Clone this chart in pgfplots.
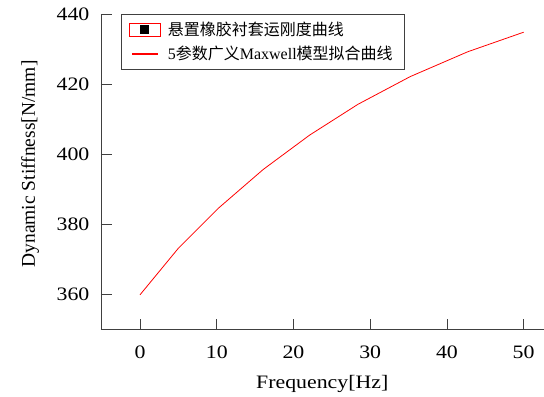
\documentclass[border=0pt]{standalone}
\usepackage{pgfplots}
\pgfplotsset{compat=1.18}
\usepackage{fontspec}
\setmainfont{Liberation Serif}[FakeStretch=1.15]
\newfontfamily\ylfont{Liberation Serif}
\newfontfamily\lgfont{Liberation Serif}
\newfontfamily\cjk{Noto Sans CJK SC}
\begin{document}
\begin{tikzpicture}[font=\fontsize{19}{22}\selectfont]
\begin{axis}[
  scale only axis,
  width=443pt, height=316pt,
  xmin=-5.1, xmax=52.6,
  ymin=350, ymax=440.2,
  axis x line*=bottom, axis y line*=left,
  axis line style={black!75, line width=0.8pt},
  tick style={black!75, line width=0.8pt},
  tick align=inside,
  major tick length=11pt,
  xtick={0,10,20,30,40,50},
  ytick={360,380,400,420,440},
  /pgf/number format/assume math mode=true,
  xticklabel style={yshift=-13pt},
  yticklabel style={xshift=-8pt},
  xlabel={Frequency[Hz]},
  ylabel={\ylfont\fontsize{19.5}{22}\selectfont Dynamic Stiffness[N/mm]},
  xlabel style={at={(axis description cs:0.5,-0.172)}, anchor=center},
  ylabel style={at={(axis description cs:-0.16,0.525)}, anchor=center},
  legend style={at={(rel axis cs:0.045,1)}, anchor=north west, draw=black!75, line width=0.8pt,
    font=\lgfont\fontsize{16}{19}\selectfont, row sep=5pt, column sep=3pt,
    inner xsep=8pt, inner ysep=6pt,
    nodes={inner xsep=4pt}},
  legend cell align=left,
]
\addlegendimage{legend image code/.code={
  \draw[draw=red, line width=0.7pt] (-0.3pt,-6.5pt) rectangle (30.7pt,6.5pt);
  \fill[black] (11pt,-4pt) rectangle (19pt,4pt);
}}
\addlegendentry{{\cjk 悬置橡胶衬套运刚度曲线}}
\addplot[red, line width=0.8pt, forget plot] coordinates {
(0,360.0) (5.0,373.3) (10.2,384.7) (16.06,395.8) (22.1,405.6) (28.4,414.4) (35.2,422.3) (42.7,429.4) (50,435.0)
};
\addlegendimage{legend image code/.code={
  \draw[red, line width=2pt] (2.5pt,0pt) -- (28pt,0pt);
}}
\addlegendentry{5{\cjk 参数广义}Maxwell{\cjk 模型拟合曲线}}
\end{axis}
\path (current axis.south west) ++(-101pt,-64pt) rectangle ++(544pt,394pt);
\end{tikzpicture}
\end{document}
